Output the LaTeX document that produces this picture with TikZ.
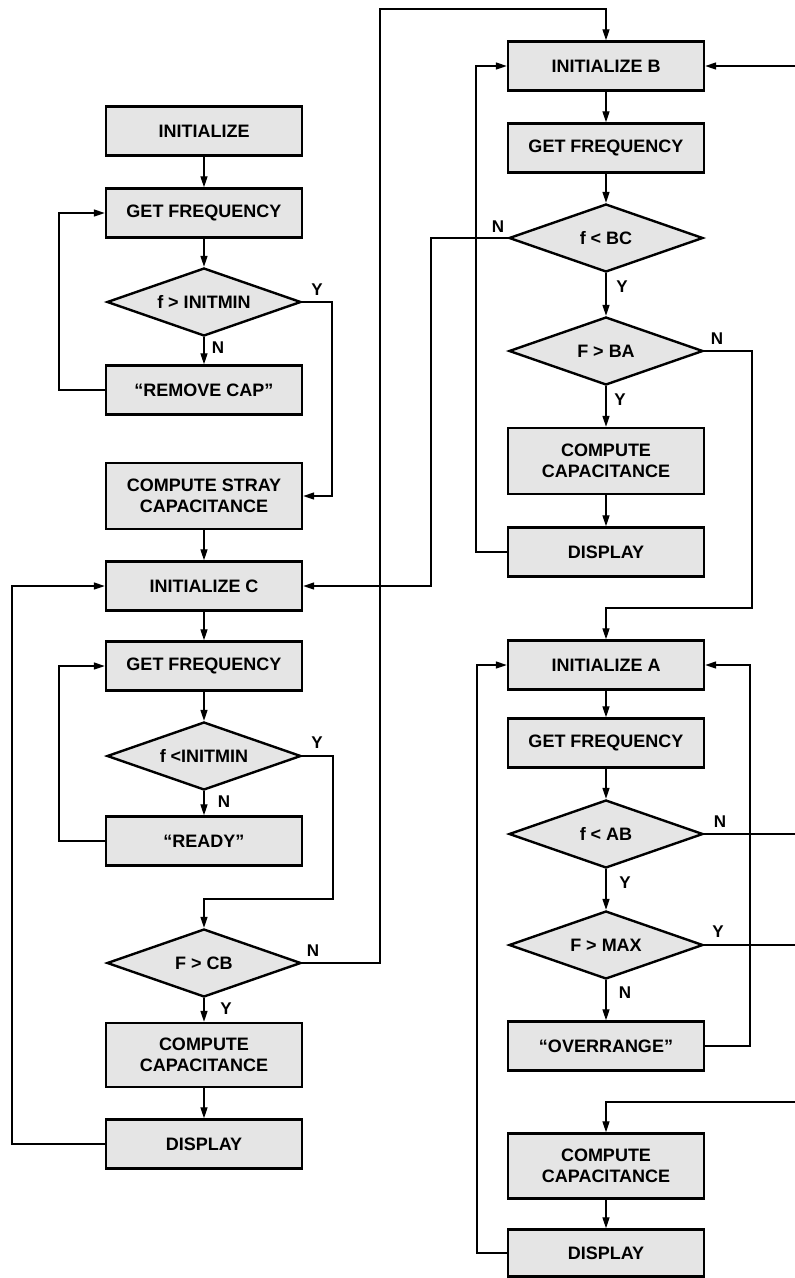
\documentclass[tikz,border=0pt]{standalone}
\usepackage{fontspec}
\setmainfont{Liberation Sans}
\usetikzlibrary{shapes.geometric,arrows.meta}
\begin{document}
\begin{tikzpicture}[x=1pt,y=-1pt,
 box/.style={draw=black, line width=2.4pt, fill=black!10, minimum width=196pt, minimum height=49pt, inner sep=0pt, align=center, font=\fontsize{18}{21}\selectfont\bfseries},
 tall/.style={box, minimum height=66pt},
 dia/.style={diamond, draw=black, line width=2.4pt, fill=black!10, minimum width=194pt, minimum height=68pt, inner sep=0pt, aspect=2.85, font=\fontsize{18}{21}\selectfont\bfseries},
 conn/.style={line width=1.3pt, -{Triangle[length=11pt,width=7pt]}},
 wire/.style={line width=1.3pt},
 lbl/.style={font=\fontsize{17}{19}\selectfont\bfseries, inner sep=0pt}
]
\useasboundingbox (0,0) rectangle (795,1278);

% left column
\node[box] (init) at (204,131) {INITIALIZE};
\node[box] (gf1) at (204,213) {GET FREQUENCY};
\node[dia] (d1) at (204,302) {f > INITMIN};
\node[box] (rc) at (204,390) {“REMOVE CAP”};
\node[tall] (cs) at (204,496) {COMPUTE STRAY\\CAPACITANCE};
\node[box] (ic) at (204,586) {INITIALIZE C};
\node[box] (gf2) at (204,666) {GET FREQUENCY};
\node[dia] (d2) at (204,756) {f <INITMIN};
\node[box] (ready) at (204,841) {“READY”};
\node[dia] (d3) at (204,963) {F > CB};
\node[tall, minimum height=64pt] (cc1) at (204,1055) {COMPUTE\\CAPACITANCE};
\node[box] (disp1) at (204,1144) {DISPLAY};

% right column
\node[box] (ib) at (606,66) {INITIALIZE B};
\node[box] (gf3) at (606,148) {GET FREQUENCY};
\node[dia] (d4) at (606,238) {f < BC};
\node[dia] (d5) at (606,351) {F > BA};
\node[tall] (cc2) at (606,461) {COMPUTE\\CAPACITANCE};
\node[box] (disp2) at (606,552) {DISPLAY};
\node[box] (ia) at (606,665) {INITIALIZE A};
\node[box] (gf4) at (606,743) {GET FREQUENCY};
\node[dia] (d6) at (606,834) {f < AB};
\node[dia] (d7) at (606,945) {F > MAX};
\node[box] (over) at (606,1046) {“OVERRANGE”};
\node[tall, minimum height=65pt] (cc3) at (606,1166) {COMPUTE\\CAPACITANCE};
\node[box, minimum height=47pt] (disp3) at (606,1253) {DISPLAY};

% free ends at the right edge
\coordinate (e1) at (795,66);
\coordinate (e2) at (795,834);
\coordinate (e3) at (795,945);
\coordinate (e4) at (795,1102);

% left column connectors
\draw[conn] (init) -- (gf1);
\draw[conn] (gf1) -- (d1);
\draw[conn] (d1) -- (rc);
\draw[conn] (d1.east) -- (332,302) |- (cs.east);
\draw[conn] (rc.west) -- (59,390) |- (gf1.west);
\draw[conn] (cs) -- (ic);
\draw[conn] (ic) -- (gf2);
\draw[conn] (gf2) -- (d2);
\draw[conn] (d2) -- (ready);
\draw[conn] (ready.west) -- (59,841) |- (gf2.west);
\draw[conn] (d2.east) -| (333,899) -| (d3.north);
\draw[conn] (d3.east) -| (380,9) -| (ib.north);
\draw[conn] (d3) -- (cc1);
\draw[conn] (cc1) -- (disp1);
\draw[conn] (disp1.west) -- (12,1144) |- (ic.west);

% right column connectors
\draw[conn] (ib) -- (gf3);
\draw[conn] (gf3) -- (d4);
\draw[conn] (d4.west) -- (431,238) |- (ic.east);
\draw[conn] (d4) -- (d5);
\draw[conn] (d5) -- (cc2);
\draw[conn] (d5.east) -| (752,608) -| (ia.north);
\draw[conn] (cc2) -- (disp2);
\draw[conn] (disp2.west) -- (476,552) |- (ib.west);
\draw[conn] (e1) -- (ib.east);
\draw[conn] (ia) -- (gf4);
\draw[conn] (gf4) -- (d6);
\draw[wire] (d6.east) -- (e2);
\draw[conn] (d6) -- (d7);
\draw[wire] (d7.east) -- (e3);
\draw[conn] (d7) -- (over);
\draw[conn] (over.east) -- (750,1046) |- (ia.east);
\draw[conn] (disp3.west) -- (477,1253) |- (ia.west);
\draw[conn] (e4) -| (cc3.north);
\draw[conn] (cc3) -- (disp3);

% labels
\node[lbl] (l1) at (317,290) {Y};
\node[lbl] (l2) at (218,348) {N};
\node[lbl] (l3) at (317,743) {Y};
\node[lbl] (l4) at (224,802) {N};
\node[lbl] (l5) at (313,951) {N};
\node[lbl] (l6) at (226,1009) {Y};
\node[lbl] (l7) at (498,227) {N};
\node[lbl] (l8) at (622,287) {Y};
\node[lbl] (l9) at (717,339) {N};
\node[lbl] (l10) at (620,400) {Y};
\node[lbl] (l11) at (720,822) {N};
\node[lbl] (l12) at (625,883) {Y};
\node[lbl] (l13) at (718,932) {Y};
\node[lbl] (l14) at (625,993) {N};
\end{tikzpicture}
\end{document}
